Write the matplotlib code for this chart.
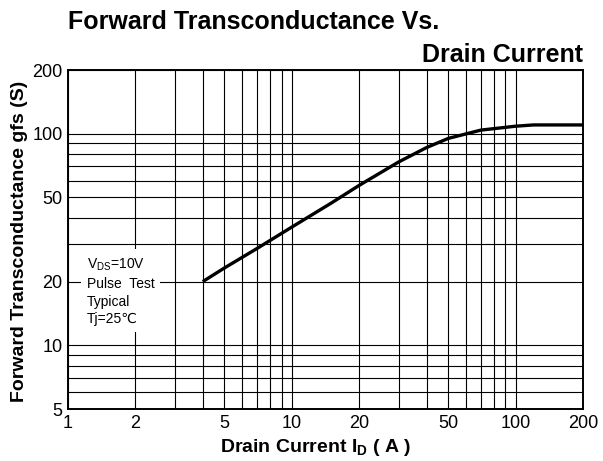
import numpy as np
import matplotlib
matplotlib.use("Agg")
import matplotlib.pyplot as plt
from matplotlib.ticker import FixedLocator, NullFormatter

plt.rcParams['font.family'] = ['Liberation Sans', 'DejaVu Sans']

# curve
drain_current = [4, 5, 7, 10, 15, 20, 30, 40, 50, 70, 100, 120, 200]
gfs = [20, 23.2, 28.7, 36.2, 47, 57, 73.5, 86, 95, 104, 108.5, 110, 110]

x_labels = [1, 2, 5, 10, 20, 50, 100, 200]
y_labels = [5, 10, 20, 50, 100, 200]
x_grid = [1, 2, 3, 4, 5, 6, 7, 8, 9, 10, 20, 30, 40, 50, 60, 70, 80, 90, 100, 200]
y_grid = [5, 6, 7, 8, 9, 10, 20, 30, 40, 50, 60, 70, 80, 90, 100, 200]

fig = plt.figure(figsize=(6.03, 4.61), dpi=100)
ax = fig.add_axes([68/603, 1-409/461, 515/603, 339/461])

ax.set_xscale('log')
ax.set_yscale('log')
ax.set_xlim(1, 200)
ax.set_ylim(5, 200)

ax.xaxis.set_major_locator(FixedLocator(x_labels))
ax.yaxis.set_major_locator(FixedLocator(y_labels))
ax.set_xticklabels([str(v) for v in x_labels])
ax.set_yticklabels([str(v) for v in y_labels])
ax.xaxis.set_minor_locator(FixedLocator([v for v in x_grid if v not in x_labels]))
ax.yaxis.set_minor_locator(FixedLocator([v for v in y_grid if v not in y_labels]))
ax.xaxis.set_minor_formatter(NullFormatter())
ax.yaxis.set_minor_formatter(NullFormatter())
ax.tick_params(which='both', length=0, labelsize=13, pad=4)
ax.grid(True, which='both', color='black', linewidth=0.8)
for s in ax.spines.values():
    s.set_linewidth(1.4)

ax.plot(drain_current, gfs, color='black', linewidth=2.4, solid_capstyle='butt')

ax.text(0.037, 0.45, "$\\mathregular{V_{DS}}$=10V\nPulse  Test\nTypical\nTj=25\u2103",
        transform=ax.transAxes, fontsize=10, va='top', ha='left', linespacing=1.35,
        bbox=dict(facecolor='white', edgecolor='none', pad=4))

fig.text(20/603, 1-241/461, "Forward Transconductance gfs (S)", fontsize=14,
         fontweight='bold', rotation=90, ha='center', va='center')
fig.text(316/603, 1-447/461, "Drain Current I$\\mathregular{_D}$ ( A )", fontsize=14,
         fontweight='bold', ha='center', va='center')

fig.text(68/603, 1-22/461, "Forward Transconductance Vs.", fontsize=18,
         fontweight='bold', ha='left', va='center')
fig.text(583/603, 1-55/461, "Drain Current", fontsize=18,
         fontweight='bold', ha='right', va='center')

fig.savefig("out.png", dpi=100)
